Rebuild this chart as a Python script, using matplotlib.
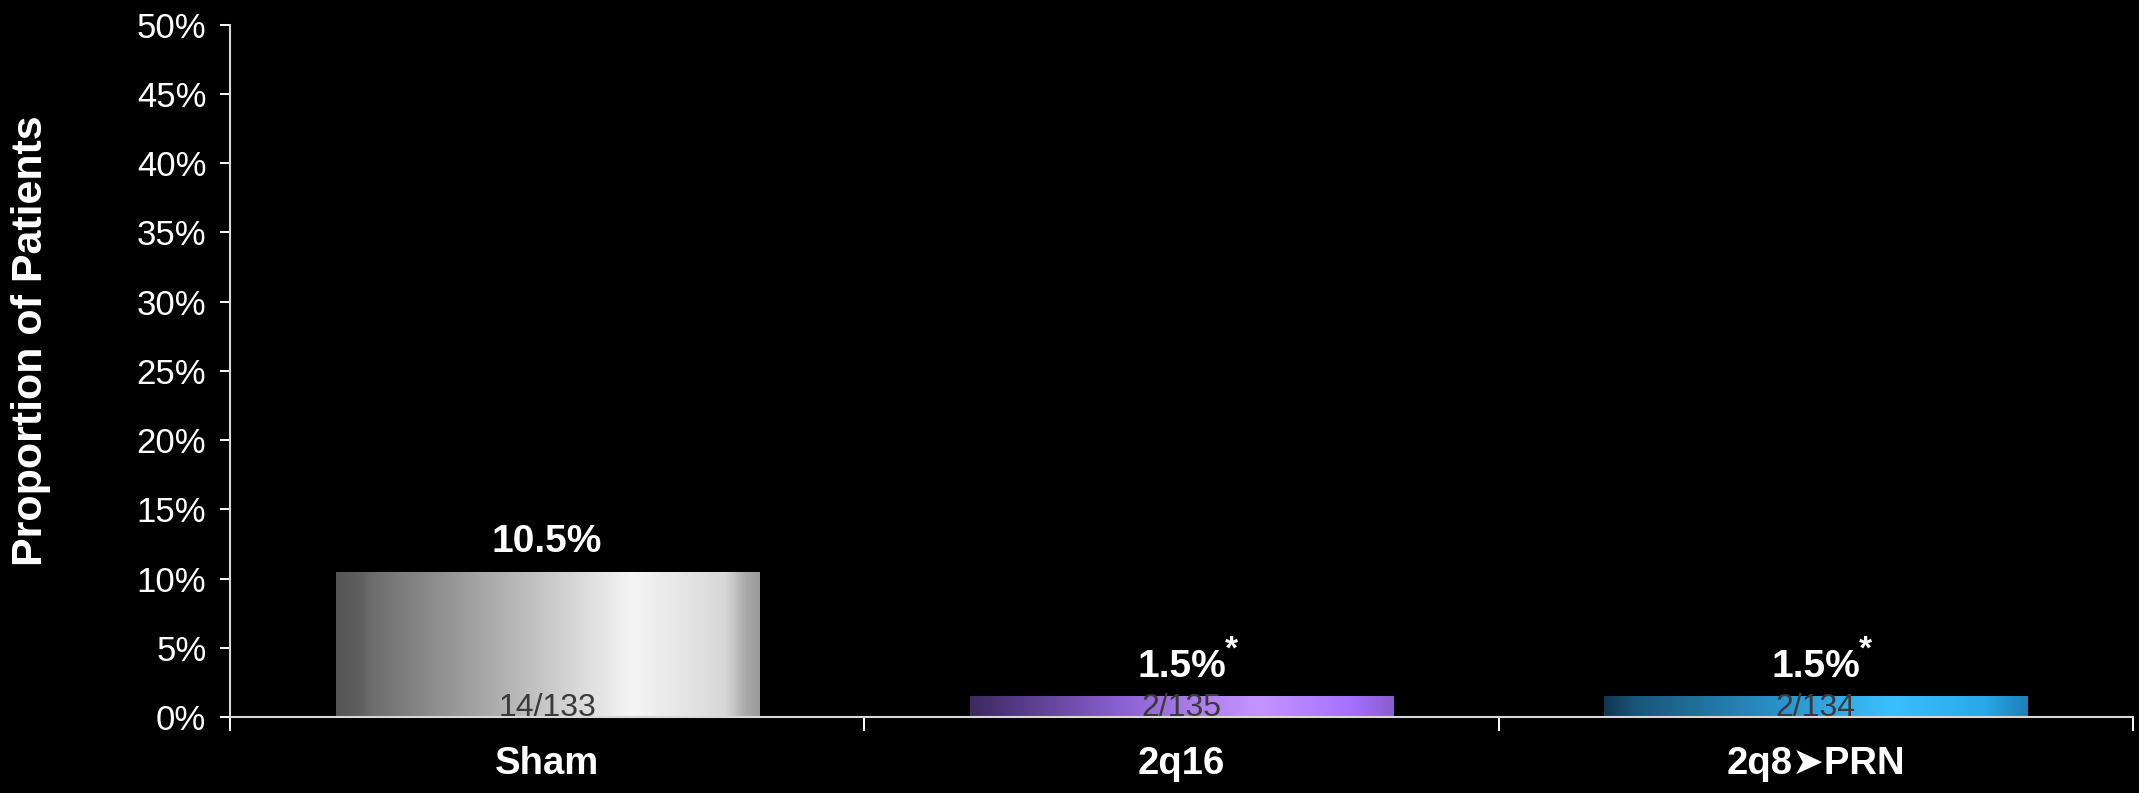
import numpy as np
import matplotlib.pyplot as plt
from matplotlib.colors import LinearSegmentedColormap

categories = ["Sham", "2q16", "2q8\u27a4PRN"]
values = [10.5, 1.5, 1.5]
counts = ["14/133", "2/135", "2/134"]
stars = ["", "*", "*"]

# horizontal shading of each bar, dark edge -> highlight -> edge
shades = [
    [(0.0, "#555555"), (0.06, "#606060"), (0.08, "#6c6c6c"), (0.70, "#f5f5f5"),
     (0.92, "#d8d8d8"), (0.97, "#a8a8a8"), (1.0, "#9a9a9a")],
    [(0.0, "#3c2a5c"), (0.07, "#4a3478"), (0.35, "#8a60d0"), (0.68, "#c495ff"),
     (0.9, "#a870ff"), (1.0, "#8a5cd0")],
    [(0.0, "#0f3550"), (0.07, "#1a5478"), (0.40, "#2a90c8"), (0.68, "#3cbfff"),
     (0.9, "#28a8e8"), (1.0, "#1e80b8")],
]

fam = ["Liberation Sans", "DejaVu Sans"]
plt.rcParams["font.family"] = fam

fig = plt.figure(figsize=(21.39, 7.93), dpi=100, facecolor="black")
ax = fig.add_axes([0.1075, 0.0958, 0.8897, 0.8730])
ax.set_facecolor("black")

x = np.arange(len(categories))
bars = ax.bar(x, values, width=0.667, color="none", edgecolor="none", zorder=2)

grad = np.linspace(0, 1, 256).reshape(1, -1)
for b, stops in zip(bars, shades):
    cmap = LinearSegmentedColormap.from_list("shade", stops)
    x0, y0 = b.get_x(), b.get_y()
    im = ax.imshow(grad, cmap=cmap, aspect="auto", zorder=2,
                   extent=[x0, x0 + b.get_width(), y0, y0 + b.get_height()])
    im.set_clip_path(b)

ax.set_xlim(-0.5, 2.5)
ax.set_ylim(0, 50)

for xi, v, c, s in zip(x, values, counts, stars):
    ax.annotate(f"{v}%", (xi, v), xytext=(0, 21), textcoords="offset points",
                ha="center", va="center", color="white", fontsize=28,
                fontweight="bold", zorder=4)
    if s:
        ax.annotate(s, (xi, v), xytext=(36, 33), textcoords="offset points",
                    ha="center", va="center", color="white", fontsize=24,
                    fontweight="bold", zorder=4)
    ax.annotate(c, (xi, 0), xytext=(0, 1), textcoords="offset points",
                ha="center", va="baseline", color="#3a3a3a", fontsize=23,
                zorder=4)

ax.set_yticks(np.arange(0, 51, 5))
ax.set_yticklabels([f"{t}%" for t in range(0, 51, 5)])
ax.tick_params(axis="y", colors="white", labelsize=25, length=7, width=1.4, pad=10)

ax.set_xticks(x)
ax.set_xticklabels(categories, fontsize=27.5, fontweight="bold", color="white")
ax.tick_params(axis="x", which="major", length=0, pad=21)
ax.set_xticks([-0.5, 0.5, 1.5, 2.5], minor=True)
ax.tick_params(axis="x", which="minor", length=10, width=1.4, color="white")

for side in ["top", "right"]:
    ax.spines[side].set_visible(False)
for side in ["left", "bottom"]:
    ax.spines[side].set_color("#d8d8d8")
    ax.spines[side].set_linewidth(1.5)

ax.set_ylabel("Proportion of Patients", fontsize=31, fontweight="bold", color="white")
ax.yaxis.set_label_coords(-0.094, 0.543)

fig.savefig("out.png", dpi=100, facecolor="black")
